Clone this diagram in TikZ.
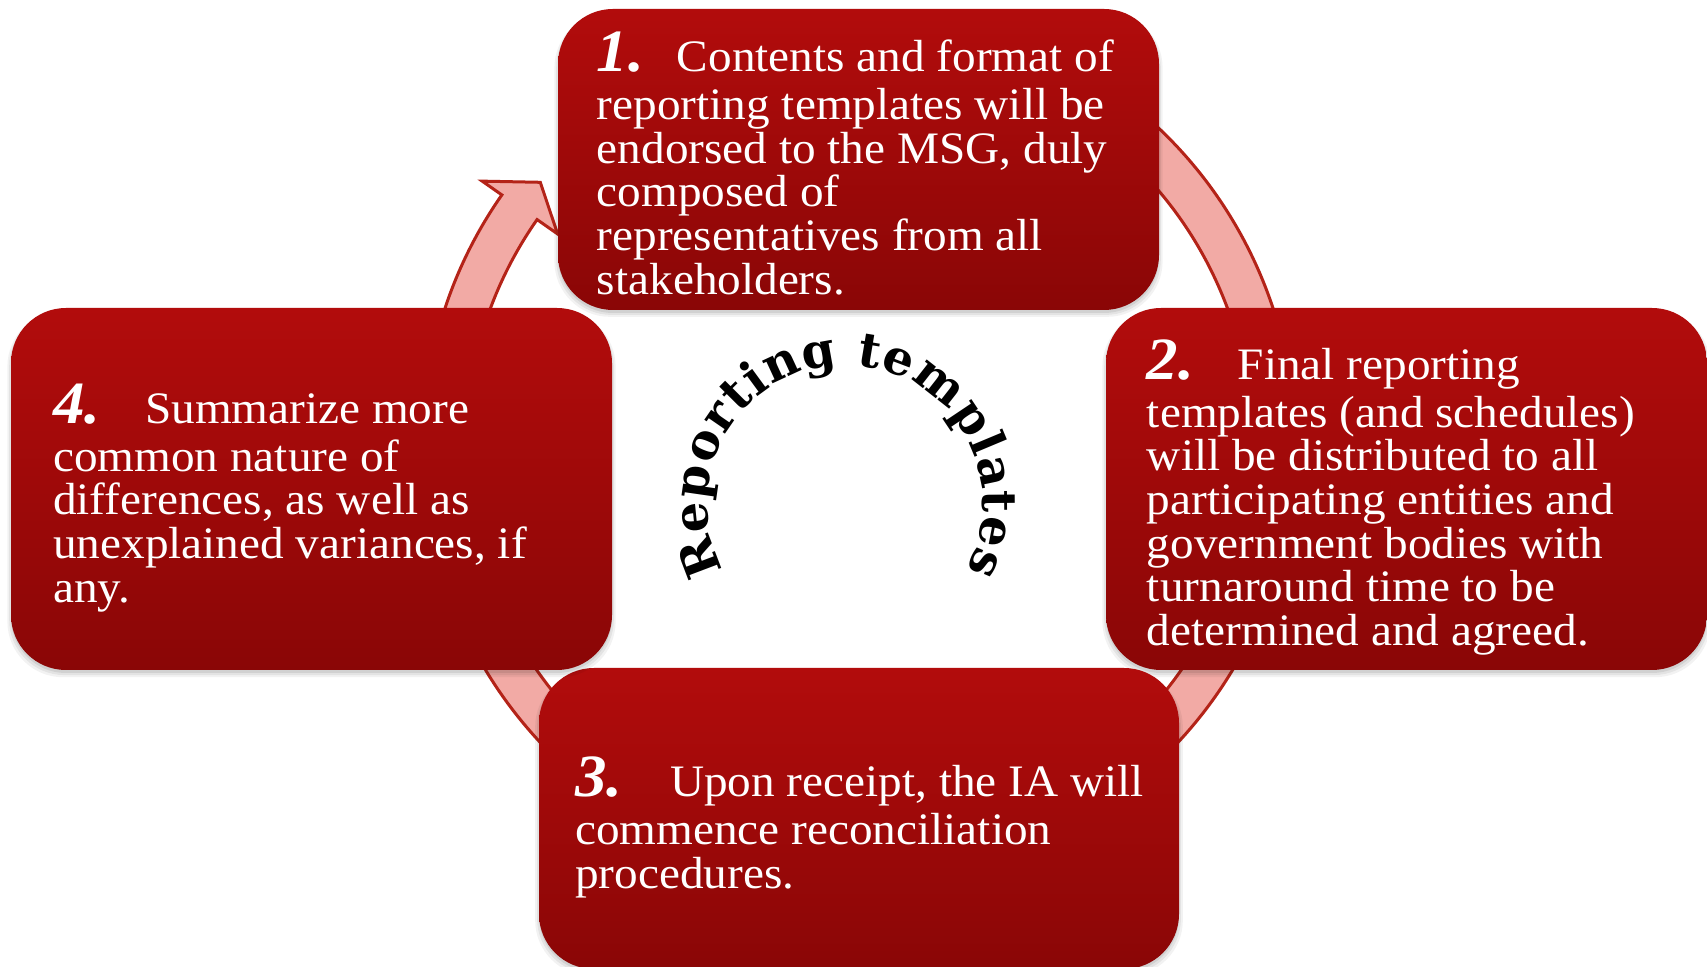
\documentclass[tikz,border=0pt]{standalone}
\usepackage{fontspec}
\setmainfont{Liberation Serif}[FakeStretch=1.05]
\newfontfamily\titlefamily{DejaVu Serif}
\usetikzlibrary{decorations.text,shadows}
\definecolor{boxtop}{HTML}{B20C0C}
\definecolor{boxbot}{HTML}{8A0606}
\definecolor{ringfill}{HTML}{F2AAA5}
\definecolor{ringline}{HTML}{B42318}
% step number set in a fixed-width slot before the step text
\newcommand\stepnum[2]{\makebox[#1pt][l]{\fontsize{60}{60}\selectfont\bfseries\itshape #2}}
\newcommand\centerfont{\titlefamily\bfseries\fontsize{48}{48}\selectfont}

\begin{document}
\begin{tikzpicture}[x=1pt,y=1pt,
  stepbox/.style={rounded corners=55pt, top color=boxtop, bottom color=boxbot,
    draw=none, inner sep=0pt,
    general shadow={fill=black,opacity=0.05,shadow yshift=-5pt,shadow scale=1.012},
    general shadow={fill=black,opacity=0.06,shadow yshift=-4pt,shadow scale=1.006},
    general shadow={fill=black,opacity=0.08,shadow yshift=-3pt}},
  % anchored on the baseline of the last line
  steptext/.style={text=white, align=left, inner sep=0pt, anchor=base west,
    font=\fontsize{45}{43.6}\selectfont},
  ring/.style={fill=ringfill, draw=ringline, line width=3pt, line join=miter}]

\useasboundingbox (0,0) rectangle (1707,966);
\fill[white] (0,0) rectangle (1707,966);

% circular arrow running clockwise behind the four steps
\coordinate (rc) at (859,521);
\path[ring]
  ([shift={(rc)}]70:436) arc[start angle=70, end angle=-215, radius=436]
  -- ([shift={(rc)}]145:460)
  -- ([shift={(rc)}]140.5:413)
  -- ([shift={(rc)}]145:368)
  -- ([shift={(rc)}]145:393) arc[start angle=-215, end angle=70, radius=393]
  -- cycle;

% the four step boxes
\node[stepbox, minimum width=601pt, minimum height=301pt] (b1) at (858.5,806.5) {};
\node[stepbox, minimum width=601pt, minimum height=362pt] (b2) at (1406.5,477) {};
\node[stepbox, minimum width=640pt, minimum height=301pt] (b3) at (859,147.5) {};
\node[stepbox, minimum width=601pt, minimum height=362pt] (b4) at (311.5,477) {};

\node[steptext] (t1) at (596.7,671.9) {\stepnum{80}{1.}Contents and format of\\[4.4pt]
  reporting templates will be\\ endorsed to the MSG, duly\\ composed of\\
  representatives from all\\ stakeholders.};
\node[steptext] (t2) at (1146.7,320.7) {\stepnum{91}{2.}Final reporting\\[4.4pt]
  templates (and schedules)\\ will be distributed to all\\ participating entities and\\
  government bodies with\\ turnaround time to be\\ determined and agreed.};
\node[steptext] (t3) at (575,77.4) {\stepnum{95}{3.}Upon receipt, the IA will\\[4.4pt]
  commence reconciliation\\ procedures.};
\node[steptext] (t4) at (53,363.9) {\stepnum{92}{4.}Summarize more\\[4.4pt]
  common nature of\\ differences, as well as\\ unexplained variances, if\\ any.};

% arched title in the middle
\path[decorate, decoration={text along path, text align=fit to path,
    text={|\centerfont|Reporting templates}}]
  ([shift={(845,463)}]209:138) arc[start angle=209, end angle=-29, radius=138];

\end{tikzpicture}
\end{document}
